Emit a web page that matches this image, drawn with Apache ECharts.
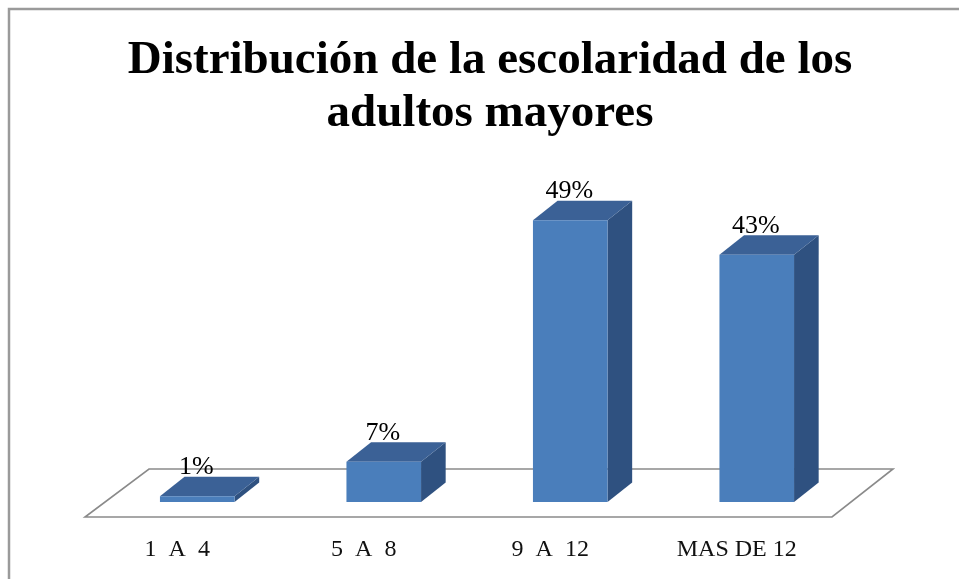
<!DOCTYPE html>
<html>
<head>
<meta charset="utf-8">
<script src="https://cdn.jsdelivr.net/npm/echarts@6/dist/echarts.min.js"></script>
<style>
  html, body { margin: 0; padding: 0; background: #fff; }
  #chart { width: 959px; height: 579px; }
</style>
</head>
<body>
<div id="chart"></div>
<script>
// datos del grafico
var categorias = ['1  A  4', '5  A  8', '9  A  12', 'MAS DE 12'];
var porcentajes = [1, 7, 49, 43];
var titulo = 'Distribución de la escolaridad de los\nadultos mayores';

var frente = '#4a7ebb';
var lado = '#2f5180';
var tapa = '#3b6196';
var serif = '"Liberation Serif", "Times New Roman", serif';

var chart = echarts.init(document.getElementById('chart'));

// piso en perspectiva (se dibuja debajo de las barras)
function renderPiso(params, api) {
  var cs = params.coordSys;
  var x0 = cs.x, x1 = cs.x + cs.width, yb = cs.y + cs.height;
  return {
    type: 'polygon',
    shape: {
      points: [
        [x0 - 19, yb + 15],
        [x1 - 18, yb + 15],
        [x1 + 43, yb - 33],
        [x0 + 45, yb - 33]
      ]
    },
    style: { fill: '#fff', stroke: '#8a8a8a', lineWidth: 1.6 }
  };
}

// barra 3D: cara frontal, lateral y superior
function renderBarra(params, api) {
  var idx = api.value(0);
  var val = api.value(1);
  var base = api.coord([idx, 0]);
  var cima = api.coord([idx, val]);
  var bw = api.size([1, 0])[0] * 0.4;
  var xl = base[0] - bw / 2, xr = base[0] + bw / 2;
  var yb = base[1], yt = cima[1];
  var dx = bw * 0.33, dy = -bw * 0.26;
  return {
    type: 'group',
    children: [
      {
        type: 'polygon',
        shape: { points: [[xr, yt], [xr + dx, yt + dy], [xr + dx, yb + dy], [xr, yb]] },
        style: { fill: lado }
      },
      {
        type: 'polygon',
        shape: { points: [[xl, yt], [xl + dx, yt + dy], [xr + dx, yt + dy], [xr, yt]] },
        style: { fill: tapa }
      },
      {
        type: 'rect',
        shape: { x: xl, y: yt, width: bw, height: yb - yt },
        style: { fill: frente }
      },
      {
        type: 'text',
        z2: 10,
        style: {
          x: base[0] - 1,
          y: yt - 16,
          text: val + '%',
          align: 'center',
          verticalAlign: 'bottom',
          fill: '#000',
          font: '26px ' + serif
        }
      }
    ]
  };
}

var option = {
  backgroundColor: '#fff',
  animation: false,
  title: {
    text: titulo,
    left: 485,
    top: 29,
    textAlign: 'center',
    textStyle: {
      fontFamily: serif,
      fontWeight: 'bold',
      fontSize: 47,
      lineHeight: 53,
      color: '#000'
    }
  },
  graphic: [
    {
      type: 'rect',
      shape: { x: 9, y: 9, width: 1000, height: 1000 },
      style: { fill: 'none', stroke: '#9a9a9a', lineWidth: 2.5 }
    }
  ],
  grid: { left: 104, right: 109, top: 157, bottom: 77 },
  xAxis: {
    type: 'category',
    data: categorias,
    axisLine: { show: false },
    axisTick: { show: false },
    axisLabel: {
      margin: 36,
      padding: [0, 40, 0, 0],
      fontFamily: serif,
      fontSize: 24,
      lineHeight: 24,
      color: '#111'
    }
  },
  yAxis: {
    type: 'value',
    min: 0,
    max: 60,
    show: false
  },
  series: [
    {
      type: 'custom',
      z: 1,
      renderItem: renderPiso,
      data: [[0]],
      silent: true
    },
    {
      type: 'custom',
      z: 2,
      renderItem: renderBarra,
      data: porcentajes.map(function (v, i) { return [i, v]; })
    }
  ]
};

chart.setOption(option);
</script>
</body>
</html>
